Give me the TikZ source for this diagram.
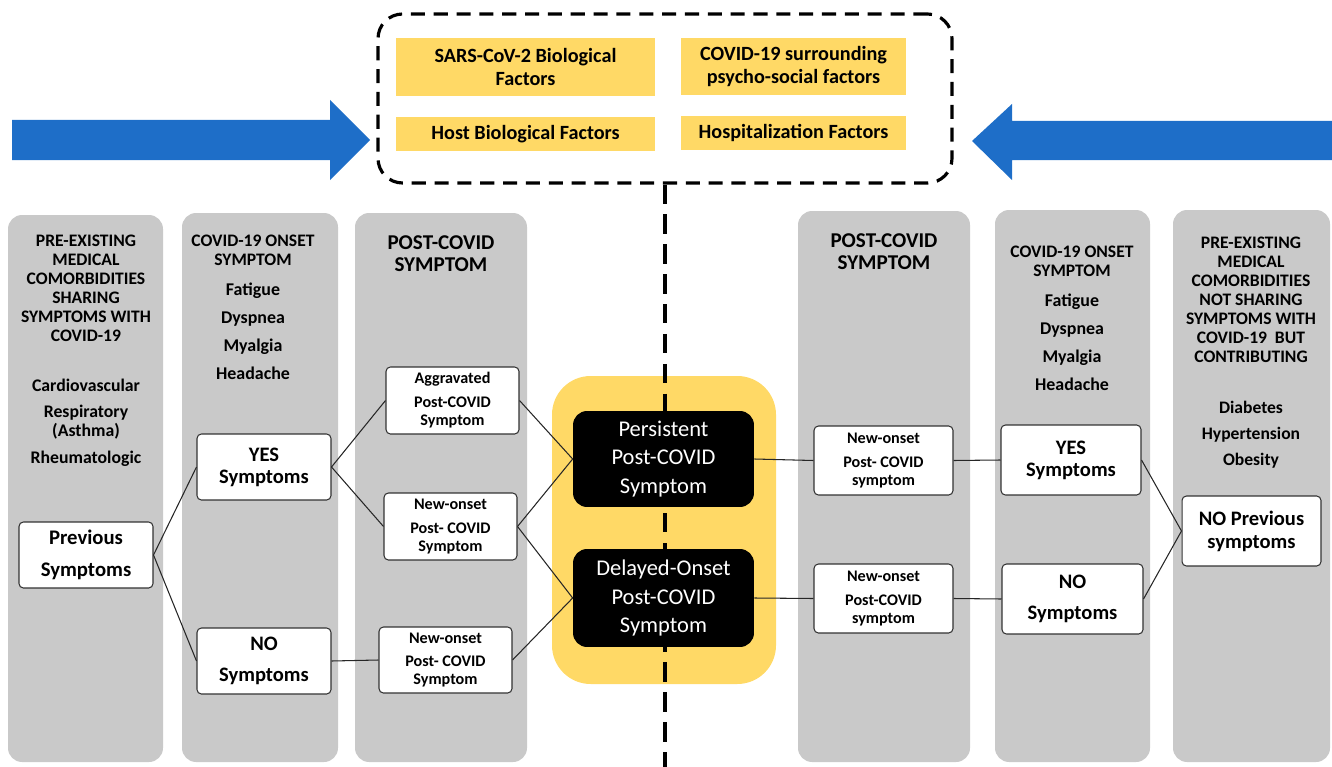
\documentclass[tikz,border=0pt]{standalone}
\usepackage{fontspec}
\setmainfont{Carlito}
\usetikzlibrary{positioning,shapes,arrows,calc,backgrounds,fit}
\definecolor{colgray}{RGB}{201,201,201}
\definecolor{gold}{RGB}{255,217,102}
\definecolor{arrowblue}{RGB}{30,110,200}

\tikzset{
  col/.style={fill=colgray,rounded corners=8pt,inner sep=0pt},
  factor/.style={fill=gold,inner sep=0pt,align=center,font=\bfseries\fontsize{11.5}{13.6}\selectfont},
  wbox/.style={draw=black!80,fill=white,line width=0.6pt,rounded corners=2.5pt,inner sep=0pt,align=center},
  bigtxt/.style={font=\bfseries\fontsize{11.7}{12.5}\selectfont},
  smalltxt/.style={font=\bfseries\fontsize{9.2}{10.2}\selectfont},
  blackbox/.style={fill=black,text=white,rounded corners=8pt,inner sep=0pt,align=center,font=\fontsize{12.8}{16}\selectfont},
  hdr/.style={align=center,font=\bfseries\fontsize{10}{10.8}\selectfont},
  posthdr/.style={align=center,font=\bfseries\fontsize{12}{12.5}\selectfont},
  items/.style={align=center,font=\bfseries\fontsize{10.2}{15.9}\selectfont},
  link/.style={draw=black!85,line width=0.6pt}
}

\begin{document}
\begin{tikzpicture}[x=0.02cm,y=-0.02cm]
    \useasboundingbox (0,0) rectangle (1332,767);

    % Gray columns
    \node[col,fit={(8,215) (163,762)}] (colA) {};
    \node[col,fit={(182,213) (338,762)}] (colB) {};
    \node[col,fit={(355,213) (527,762)}] (colC) {};
    \node[col,fit={(798,211) (970,762)}] (colD) {};
    \node[col,fit={(995,210) (1150,762)}] (colE) {};
    \node[col,fit={(1173,210) (1330,762)}] (colF) {};

    % Yellow centre
    \node[fill=gold,rounded corners=22pt,inner sep=0pt,fit={(552,376) (776,684)}] (centre) {};

    % Factors box
    \node[draw,line width=1.8pt,dash pattern=on 8pt off 5pt,rounded corners=14pt,inner sep=0pt,fit={(378,14) (952,183)}] (factors) {};
    \node[factor,minimum width=5.18cm,minimum height=1.16cm] (sars) at (525.5,67) {SARS-CoV-2 Biological\\Factors};
    \node[factor,minimum width=4.5cm,minimum height=1.14cm] (psycho) at (793.5,66.5) {COVID-19 surrounding\\psycho-social factors};
    \node[factor,minimum width=5.18cm,minimum height=0.68cm] (host) at (525.5,134) {Host Biological Factors};
    \node[factor,minimum width=4.5cm,minimum height=0.68cm] (hosp) at (793.5,133) {Hospitalization Factors};

    % Dashed divider
    \coordinate (dashend) at (665,767);
    \draw[line width=1.8pt,dash pattern=on 11pt off 6pt] (factors.south) -- (dashend);

    % Blue arrows
    \fill[arrowblue] (12,120) -- (330,120) -- (330,100) -- (370,140) -- (330,180) -- (330,160) -- (12,160) -- cycle;
    \fill[arrowblue] (1332,121) -- (1012,121) -- (1012,104) -- (972,141) -- (1012,180) -- (1012,160) -- (1332,160) -- cycle;

    % Column texts
    \node[hdr] (hdrA) at (86,288) {PRE-EXISTING\\MEDICAL\\COMORBIDITIES\\SHARING\\SYMPTOMS WITH\\COVID-19};
    \node[hdr,font=\bfseries\fontsize{10.1}{10.8}\selectfont] (listA) at (86,423) {Cardiovascular\\[4pt]Respiratory\\(Asthma)\\[4.5pt]Rheumatologic};
    \node[hdr] (hdrB) at (253,250) {COVID-19 ONSET\\SYMPTOM};
    \node[items] (listB) at (253,331) {Fatigue\\Dyspnea\\Myalgia\\Headache};
    \node[posthdr] (hdrC) at (441,254) {POST-COVID\\SYMPTOM};
    \node[posthdr] (hdrD) at (884,252) {POST-COVID\\SYMPTOM};
    \node[hdr] (hdrE) at (1072,261) {COVID-19 ONSET\\SYMPTOM};
    \node[items] (listE) at (1072,342) {Fatigue\\Dyspnea\\Myalgia\\Headache};
    \node[hdr] (hdrF) at (1251,300) {PRE-EXISTING\\MEDICAL\\COMORBIDITIES\\NOT SHARING\\SYMPTOMS WITH\\COVID-19~~BUT\\CONTRIBUTING};
    \node[items,font=\bfseries\fontsize{10}{14.8}\selectfont] (listF) at (1251,435) {Diabetes\\Hypertension\\Obesity};

    % Outcome boxes
    \node[blackbox,minimum width=3.62cm,minimum height=1.92cm] (persist) at (663.5,459) {Persistent\\Post-COVID\\Symptom};
    \node[blackbox,minimum width=3.62cm,minimum height=1.96cm] (delayed) at (663.5,598) {Delayed-Onset\\Post-COVID\\Symptom};

    % Left branch
    \node[wbox,minimum width=2.68cm,minimum height=1.32cm,font=\bfseries\fontsize{11.8}{18}\selectfont] (prev) at (86,555) {Previous\\Symptoms};
    \node[wbox,bigtxt,minimum width=2.68cm,minimum height=1.32cm] (yesL) at (264,467) {YES\\Symptoms};
    \node[wbox,minimum width=2.68cm,minimum height=1.32cm,font=\bfseries\fontsize{11.7}{18}\selectfont] (noL) at (264,661) {NO\\Symptoms};
    \node[wbox,smalltxt,minimum width=2.66cm,minimum height=1.34cm] (aggr) at (452.5,400.5) {Aggravated\\[3.5pt]Post-COVID\\Symptom};
    \node[wbox,smalltxt,minimum width=2.66cm,minimum height=1.34cm] (newA) at (450.5,526.5) {New-onset\\[3.5pt]Post-~COVID\\Symptom};
    \node[wbox,smalltxt,minimum width=2.66cm,minimum height=1.32cm] (newB) at (445.5,660) {New-onset\\[3pt]Post-~COVID\\Symptom};

    % Right branch
    \node[wbox,smalltxt,minimum width=2.78cm,minimum height=1.38cm] (newC) at (883.5,460.5) {New-onset\\[3.5pt]Post-~COVID\\symptom};
    \node[wbox,smalltxt,minimum width=2.78cm,minimum height=1.38cm] (newD) at (883.5,598.5) {New-onset\\[3.5pt]Post-COVID\\symptom};
    \node[wbox,bigtxt,minimum width=2.8cm,minimum height=1.4cm] (yesR) at (1071,460) {YES\\Symptoms};
    \node[wbox,minimum width=2.82cm,minimum height=1.4cm,font=\bfseries\fontsize{11.7}{17.6}\selectfont] (noR) at (1072.5,599) {NO\\Symptoms};
    \node[wbox,minimum width=2.78cm,minimum height=1.4cm,font=\bfseries\fontsize{11.7}{13}\selectfont] (noprev) at (1251.5,531) {NO Previous\\symptoms};

    % Connectors
    \draw[link] (prev.east) -- (yesL.west);
    \draw[link] (prev.east) -- (noL.west);
    \draw[link] (yesL.east) -- (aggr.west);
    \draw[link] (yesL.east) -- (newA.west);
    \draw[link] (noL.east) -- (newB.west);
    \draw[link] (aggr.east) -- (persist.west);
    \draw[link] (newA.east) -- (persist.west);
    \draw[link] (newA.east) -- (delayed.west);
    \draw[link] (newB.east) -- (delayed.west);
    \draw[link] (persist.east) -- (newC.west);
    \draw[link] (delayed.east) -- (newD.west);
    \draw[link] (newC.east) -- (yesR.west);
    \draw[link] (newD.east) -- (noR.west);
    \draw[link] (yesR.east) -- (noprev.west);
    \draw[link] (noR.east) -- (noprev.west);
\end{tikzpicture}
\end{document}
